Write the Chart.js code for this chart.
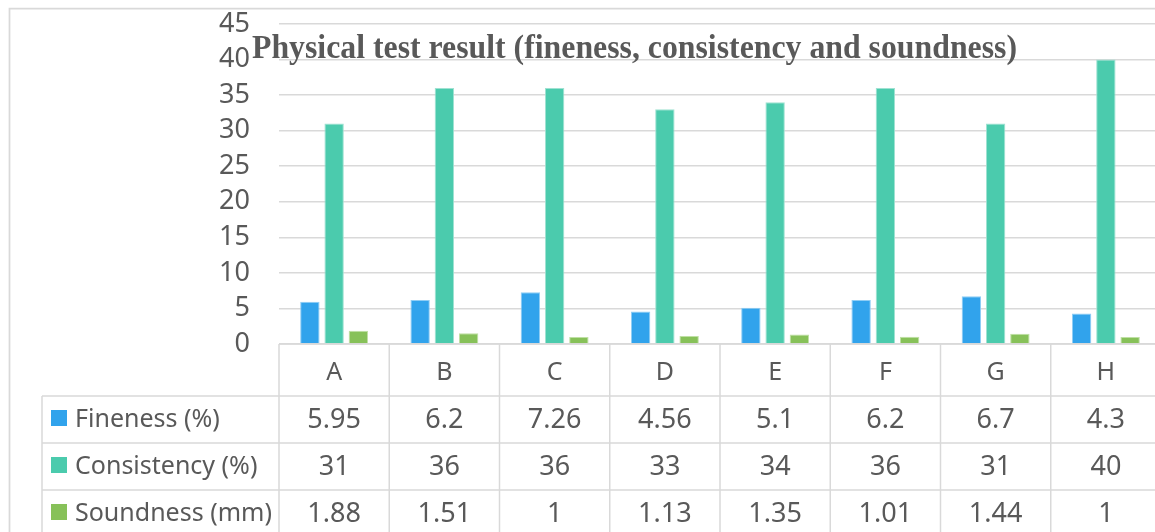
<!DOCTYPE html>
<html>
<head>
<meta charset="utf-8">
<script src="https://cdn.jsdelivr.net/npm/chart.js@4.4.1/dist/chart.umd.min.js"></script>
<style>
  html, body { margin: 0; padding: 0; background: #ffffff; overflow: hidden; width: 1155px; height: 532px; }
  canvas { display: block; }
</style>
</head>
<body>
<canvas id="chart" width="1175" height="532"></canvas>
<script>
// Samples and measured properties
const samples = ['A', 'B', 'C', 'D', 'E', 'F', 'G', 'H'];
const fineness = [5.95, 6.2, 7.26, 4.56, 5.1, 6.2, 6.7, 4.3];
const consistency = [31, 36, 36, 33, 34, 36, 31, 40];
const soundness = [1.88, 1.51, 1, 1.13, 1.35, 1.01, 1.44, 1];
const seriesNames = ['Fineness (%)', 'Consistency (%)', 'Soundness (mm)'];
const seriesColors = ['#31a3ec', '#4bcbad', '#87c159'];
const seriesEdges = ['#8fcdf5', '#9fe2d2', '#bfe0a4'];
const yMin = 0;
const yMax = 45;
const yStep = 5;
const chartTitle = 'Physical test result (fineness, consistency and soundness)';

const seriesValues = [fineness, consistency, soundness];

const TEXT = '#595959';
const LINE = '#d9d9d9';
const FONT = '"Noto Sans", sans-serif';
const LABEL_SIZE = 25;
const NUMBER_SIZE = 27;

// Outer frame of the chart object
const framePlugin = {
  id: 'frame',
  beforeDraw(chart) {
    const ctx = chart.ctx;
    ctx.save();
    ctx.strokeStyle = LINE;
    ctx.lineWidth = 1.75;
    ctx.beginPath();
    ctx.moveTo(9.5, chart.height);
    ctx.lineTo(9.5, 8.5);
    ctx.lineTo(chart.width, 8.5);
    ctx.stroke();
    ctx.restore();
  }
};

// Data table under the plot, aligned to the category scale
const tablePlugin = {
  id: 'dataTable',
  afterDraw(chart) {
    const ctx = chart.ctx;
    const xs = chart.scales.x;
    const area = chart.chartArea;
    const half = (xs.getPixelForValue(1) - xs.getPixelForValue(0)) / 2;
    const tableLeft = 42;
    const headerH = 52;
    const rowH = 47;
    const top = area.bottom;
    const rowTop = i => top + headerH + i * rowH;

    ctx.save();
    ctx.strokeStyle = LINE;
    ctx.lineWidth = 1.5;
    ctx.beginPath();
    // horizontal rules
    ctx.moveTo(area.left, top); ctx.lineTo(chart.width, top);
    for (let i = 0; i <= seriesNames.length; i++) {
      const y = rowTop(i);
      ctx.moveTo(tableLeft, y); ctx.lineTo(chart.width, y);
    }
    // vertical rules at category boundaries
    for (let i = 0; i <= samples.length; i++) {
      const x = xs.getPixelForValue(0) - half + i * 2 * half;
      ctx.moveTo(x, top); ctx.lineTo(x, chart.height);
    }
    ctx.moveTo(tableLeft, rowTop(0)); ctx.lineTo(tableLeft, chart.height);
    ctx.stroke();

    ctx.fillStyle = TEXT;
    ctx.textBaseline = 'alphabetic';
    ctx.textAlign = 'center';
    ctx.font = LABEL_SIZE + 'px ' + FONT;
    samples.forEach((s, i) => {
      ctx.fillText(s, xs.getPixelForValue(i), top + 36);
    });
    seriesNames.forEach((name, r) => {
      const y0 = rowTop(r);
      ctx.fillStyle = seriesColors[r];
      ctx.fillRect(51, y0 + 14, 16, 16);
      ctx.fillStyle = TEXT;
      ctx.textAlign = 'left';
      ctx.font = LABEL_SIZE + 'px ' + FONT;
      ctx.fillText(name, 75, y0 + 31);
      ctx.textAlign = 'center';
      ctx.font = NUMBER_SIZE + 'px ' + FONT;
      seriesValues[r].forEach((v, i) => {
        ctx.fillText(String(v), xs.getPixelForValue(i), y0 + 32);
      });
    });
    ctx.restore();
  }
};

// Title laid over the top of the plot
const titlePlugin = {
  id: 'overTitle',
  afterDraw(chart) {
    const ctx = chart.ctx;
    ctx.save();
    ctx.font = 'bold 33px "Liberation Serif", "Times New Roman", serif';
    ctx.fillStyle = TEXT;
    ctx.textBaseline = 'alphabetic';
    ctx.textAlign = 'left';
    const w = ctx.measureText(chartTitle).width;
    const targetW = 765;
    ctx.translate(252, 58);
    ctx.scale(targetW / w, 1);
    ctx.fillText(chartTitle, 0, 0);
    ctx.restore();
  }
};

const canvas = document.getElementById('chart');
new Chart(canvas, {
  type: 'bar',
  data: {
    labels: samples,
    datasets: seriesNames.map((name, i) => ({
      label: name,
      data: seriesValues[i],
      backgroundColor: seriesColors[i],
      borderColor: seriesEdges[i],
      borderWidth: 1,
      categoryPercentage: 0.66,
      barPercentage: 0.8
    }))
  },
  options: {
    responsive: false,
    animation: false,
    devicePixelRatio: 1,
    layout: { padding: { left: 0, top: 24, right: 1175 - 1161, bottom: 532 - 344 } },
    plugins: {
      legend: { display: false },
      title: { display: false },
      tooltip: { enabled: false }
    },
    scales: {
      x: {
        display: false,
        offset: true
      },
      y: {
        min: yMin,
        max: yMax,
        afterFit(scale) {
          scale.width = 279;
          scale.paddingTop = 0;
          scale.paddingBottom = 0;
        },
        border: { display: false },
        grid: { color: LINE, lineWidth: 1.5, drawTicks: false },
        ticks: {
          stepSize: yStep,
          padding: 29,
          color: TEXT,
          font: { family: FONT, size: NUMBER_SIZE }
        }
      }
    }
  },
  plugins: [framePlugin, tablePlugin, titlePlugin]
});
</script>
</body>
</html>
